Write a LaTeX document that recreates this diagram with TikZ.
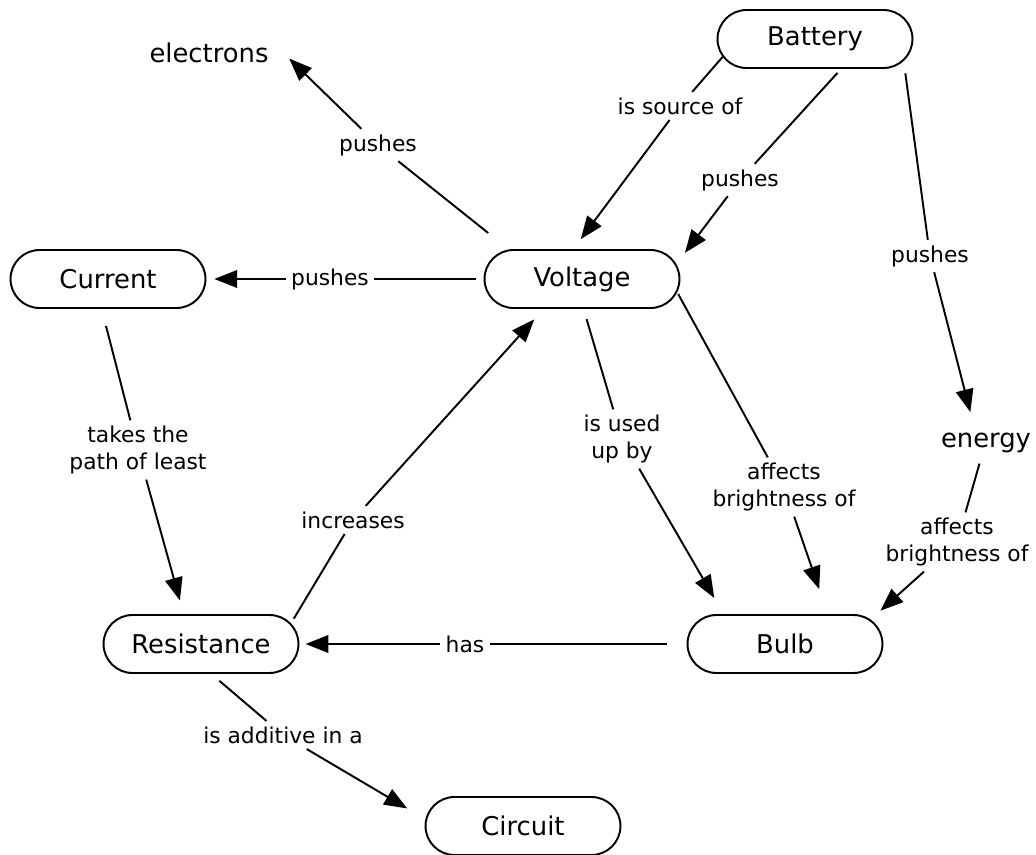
\documentclass[tikz,border=0pt]{standalone}
\usepackage{fontspec}
\setmainfont{DejaVu Sans}
\usetikzlibrary{shapes.misc,arrows.meta}

\begin{document}
\begin{tikzpicture}[
    x=0.02cm, y=-0.02cm,
    concept/.style={rounded rectangle, draw, line width=1.1pt, minimum width=3.9cm, minimum height=1.16cm, inner xsep=0pt, font=\fontsize{14.7}{17.5}\selectfont},
    thing/.style={inner sep=3pt, font=\fontsize{14.7}{17.5}\selectfont},
    phrase/.style={inner sep=3pt, align=center, font=\fontsize{12.4}{15.3}\selectfont},
    link/.style={line width=1.1pt, shorten <=3pt},
    arrow/.style={line width=1.1pt, -{Triangle[length=13pt,width=10pt]}, shorten >=8pt}
]
\useasboundingbox (0,0) rectangle (1036,855);

\node[concept] (battery) at (815,39) {Battery};
\node[concept] (current) at (108,279) {Current};
\node[concept] (voltage) at (582,279) {Voltage};
\node[concept] (resistance) at (201,644) {Resistance};
\node[concept] (bulb) at (785,644) {Bulb};
\node[concept] (circuit) at (523,826) {Circuit};
\node[thing] (electrons) at (209,53) {electrons};
\node[thing] (energy) at (986,443) {energy};

% linking phrases
\node[phrase] (push_electrons) at (378,145) {pushes};
\node[phrase] (source_of) at (680,106) {is source of};
\node[phrase] (push_voltage) at (740,180) {pushes};
\node[phrase] (push_energy) at (930,256) {pushes};
\node[phrase] (push_current) at (330,279) {pushes};
\node[phrase] (least_path) at (138,450) {takes the\\path of least};
\node[phrase] (increases) at (353,520) {increases};
\node[phrase] (used_up) at (622,439) {is used\\up by};
\node[phrase] (affects_v) at (784,487) {affects\\brightness of};
\node[phrase] (affects_e) at (957,542) {affects\\brightness of};
\node[phrase] (has) at (465,644) {has};
\node[phrase] (additive) at (283,735) {is additive in a};

\draw[link, shorten <=15pt] (voltage.158) -- (push_electrons);
\draw[arrow, shorten >=12pt] (push_electrons) -- (electrons.8);
\draw[link, shorten <=0pt] (battery.191) -- (source_of);
\draw[arrow, shorten >=7pt] (source_of) -- (voltage.106);
\draw[link] (battery.311) -- (push_voltage);
\draw[arrow] (push_voltage) -- (voltage.9);
\draw[link, shorten <=7pt] (battery.346) -- (push_energy);
\draw[arrow, shorten >=9pt] (push_energy) -- (energy.127);
\draw[link, shorten <=4.5pt] (voltage.west) -- (push_current);
\draw[arrow, shorten >=4.5pt] (push_current) -- (current.east);
\draw[link, shorten <=10pt] (current.258) -- (least_path);
\draw[arrow] (least_path) -- (resistance.120);
\draw[link] (resistance.13) -- (increases);
\draw[arrow] (increases) -- (voltage.218);
\draw[link, shorten <=6pt] (voltage.273) -- (used_up);
\draw[arrow, shorten >=10.5pt] (used_up) -- (bulb.154);
\draw[link, shorten <=1pt] (voltage.352) -- (affects_v);
\draw[arrow, shorten >=15pt] (affects_v) -- (bulb.35);
\draw[link] (energy.252) -- (affects_e);
\draw[arrow, shorten >=7.5pt] (affects_e) -- (bulb.16);
\draw[link, shorten <=11pt] (bulb.west) -- (has);
\draw[arrow, shorten >=3.5pt] (has) -- (resistance.east);
\draw[link, shorten <=6pt] (resistance.289) -- (additive);
\draw[arrow, shorten >=12pt] (additive) -- (circuit.176);

\end{tikzpicture}
\end{document}
